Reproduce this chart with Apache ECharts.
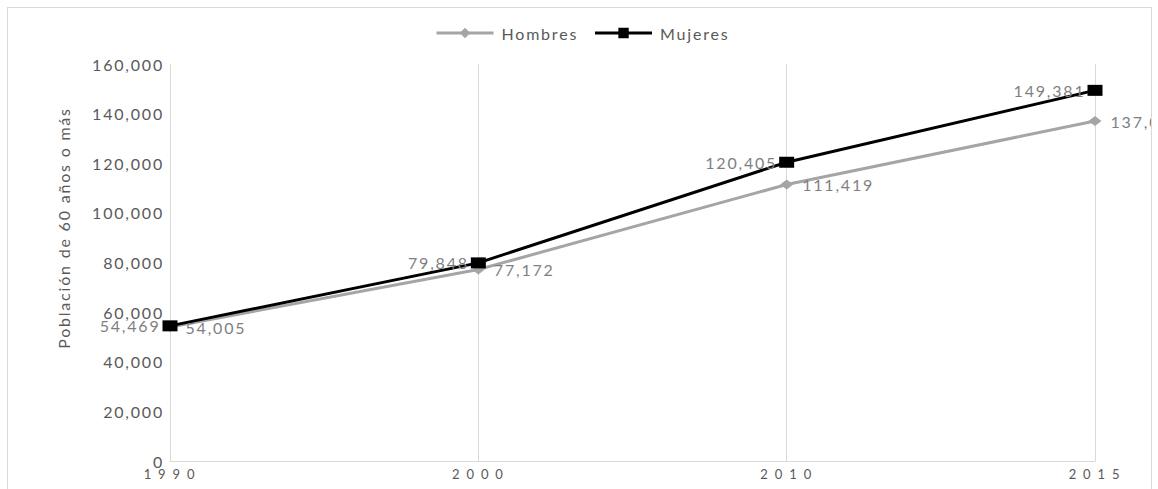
<!DOCTYPE html>
<html>
<head>
<meta charset="utf-8">
<script src="https://cdn.jsdelivr.net/npm/echarts@6/dist/echarts.min.js"></script>
<style>
  html, body { margin: 0; padding: 0; background: #ffffff; }
  #frame {
    position: absolute; left: 7px; top: 7px;
    width: 1143px; height: 500px;
    border: 1px solid #d9d9d9; overflow: hidden;
  }
  #chart { width: 1143px; height: 500px; }
  #chart text { letter-spacing: 1.8px; }
</style>
</head>
<body>
<div id="frame"><div id="chart"></div></div>
<script>
// Población de 60 años o más, por sexo
const years = ['1990', '2000', '2010', '2015'];
const hombres = [54005, 77172, 111419, 137027];
const mujeres = [54469, 79848, 120405, 149381];
const yTicks = { min: 0, max: 160000, step: 20000 };

const fmt = v => Number(v).toLocaleString('en-US');
const FONT = 'Lato';

const chart = echarts.init(document.getElementById('chart'), null, { renderer: 'svg' });

chart.setOption({
  animation: false,
  backgroundColor: '#ffffff',
  textStyle: { fontFamily: FONT },
  legend: {
    data: ['Hombres', 'Mujeres'],
    left: 422,
    top: 12,
    itemWidth: 57,
    itemHeight: 13,
    itemGap: 28,
    lineStyle: { width: 3 },
    textStyle: { color: '#595959', fontSize: 16, fontFamily: FONT, padding: [0, 0, 0, 3] }
  },
  grid: { left: 162, right: 56, top: 56, bottom: 47 },
  xAxis: {
    type: 'category',
    data: years,
    boundaryGap: false,
    axisTick: { show: false },
    axisLine: { lineStyle: { color: '#d9d9d9', width: 1 } },
    splitLine: { show: true, lineStyle: { color: '#d9d9d9', width: 1 } },
    axisLabel: {
      color: '#595959', fontSize: 13, fontFamily: FONT, margin: 6,
      formatter: v => v.split('').join(' ')
    }
  },
  yAxis: {
    type: 'value',
    min: yTicks.min,
    max: yTicks.max,
    interval: yTicks.step,
    axisLine: { show: false },
    axisTick: { show: false },
    splitLine: { show: false },
    axisLabel: { color: '#595959', fontSize: 16, fontFamily: FONT, margin: 6, formatter: fmt }
  },
  graphic: [{
    type: 'text',
    x: 55,
    y: 220,
    rotation: Math.PI / 2,
    style: {
      text: 'Población de 60 años o más',
      fill: '#595959',
      font: '16px Lato',
      textAlign: 'center',
      textVerticalAlign: 'middle'
    }
  }],
  series: [
    {
      name: 'Hombres',
      type: 'line',
      data: hombres,
      symbol: 'diamond',
      symbolSize: [13, 10],
      lineStyle: { color: '#a5a5a5', width: 3 },
      itemStyle: { color: '#a5a5a5' },
      label: {
        show: true, position: 'right', distance: 9,
        color: '#7f7f7f', fontSize: 16, fontFamily: FONT,
        formatter: p => fmt(p.value)
      }
    },
    {
      name: 'Mujeres',
      type: 'line',
      data: mujeres,
      symbol: 'rect',
      symbolSize: [15, 11],
      lineStyle: { color: '#000000', width: 3 },
      itemStyle: { color: '#000000' },
      label: {
        show: true, position: 'left', distance: 2,
        color: '#7f7f7f', fontSize: 16, fontFamily: FONT,
        formatter: p => fmt(p.value)
      }
    }
  ]
});
</script>
</body>
</html>
